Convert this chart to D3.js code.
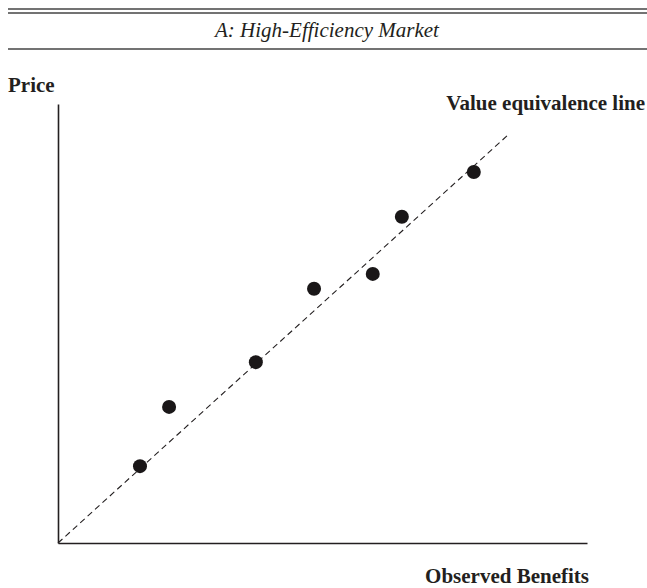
<!DOCTYPE html>
<html>
<head>
<meta charset="utf-8">
<script src="https://cdn.jsdelivr.net/npm/d3@7"></script>
<style>
  body { margin: 0; background: #fff; }
  text { font-family: "Liberation Serif", "Times New Roman", serif; fill: #231f20; }
</style>
</head>
<body>
<svg></svg>
<script>
// observed benefits (x) vs price (y), arbitrary units 0-100
var benefits = [15.5, 21.0, 37.4, 48.4, 59.5, 65.0, 78.6];
var prices   = [17.5, 31.0, 41.2, 57.9, 61.3, 74.3, 84.5];
// value equivalence line, start and end
var lineX = [0, 85.3];
var lineY = [0, 93.2];

var width = 647, height = 588;

var svg = d3.select("svg")
  .attr("width", width)
  .attr("height", height);

var x = d3.scaleLinear().domain([0, 100]).range([58, 587]);
var y = d3.scaleLinear().domain([0, 100]).range([543, 104]);

// header rules
[9, 13, 49].forEach(function(ly, i){
  svg.append("line")
    .attr("x1", 8).attr("x2", width)
    .attr("y1", ly).attr("y2", ly)
    .attr("stroke", "#444")
    .attr("stroke-width", i == 0 ? 1.6 : 1.4)
});

svg.append("text")
  .attr("x", 327)
  .attr("y", 37)
  .style("text-anchor", "middle")
  .style("font-style", "italic")
  .style("font-size", "21px")
  .text("A: High-Efficiency Market");

// axes
svg.append("g")
  .attr("transform", `translate(${x(0)},0)`)
  .call(d3.axisLeft(y).ticks(0).tickSizeOuter(0))
  .call(g => g.select(".domain").attr("stroke", "#231f20").attr("stroke-width", 1.6));

svg.append("g")
  .attr("transform", `translate(0,${y(0)})`)
  .call(d3.axisBottom(x).ticks(0).tickSizeOuter(0))
  .call(g => g.select(".domain").attr("stroke", "#231f20").attr("stroke-width", 1.6));

// dashed value line
var lineData = lineX.map((d, i) => [d, lineY[i]]);
svg.append("path")
  .datum(lineData)
  .attr("d", d3.line().x(d => x(d[0])).y(d => y(d[1])))
  .attr("fill", "none")
  .attr("stroke", "#231f20")
  .attr("stroke-width", 1.1)
  .attr("stroke-dasharray", "6,4");

// points
svg.selectAll(".pt")
  .data(benefits)
  .enter()
  .append("circle")
    .classed("pt", true)
    .attr("cx", d => x(d))
    .attr("cy", (d, i) => y(prices[i]))
    .attr("r", 7)
    .attr("fill", "#1a1718");

// labels
svg.append("text")
  .attr("x", 8).attr("y", 92)
  .style("font-weight", "bold")
  .style("font-size", "21px")
  .text("Price");

svg.append("text")
  .attr("x", 645).attr("y", 110)
  .style("text-anchor", "end")
  .style("font-weight", "bold")
  .style("font-size", "21px")
  .text("Value equivalence line");

svg.append("text")
  .attr("x", 589).attr("y", 583)
  .style("text-anchor", "end")
  .style("font-weight", "bold")
  .style("font-size", "21px")
  .text("Observed Benefits");
</script>
</body>
</html>
